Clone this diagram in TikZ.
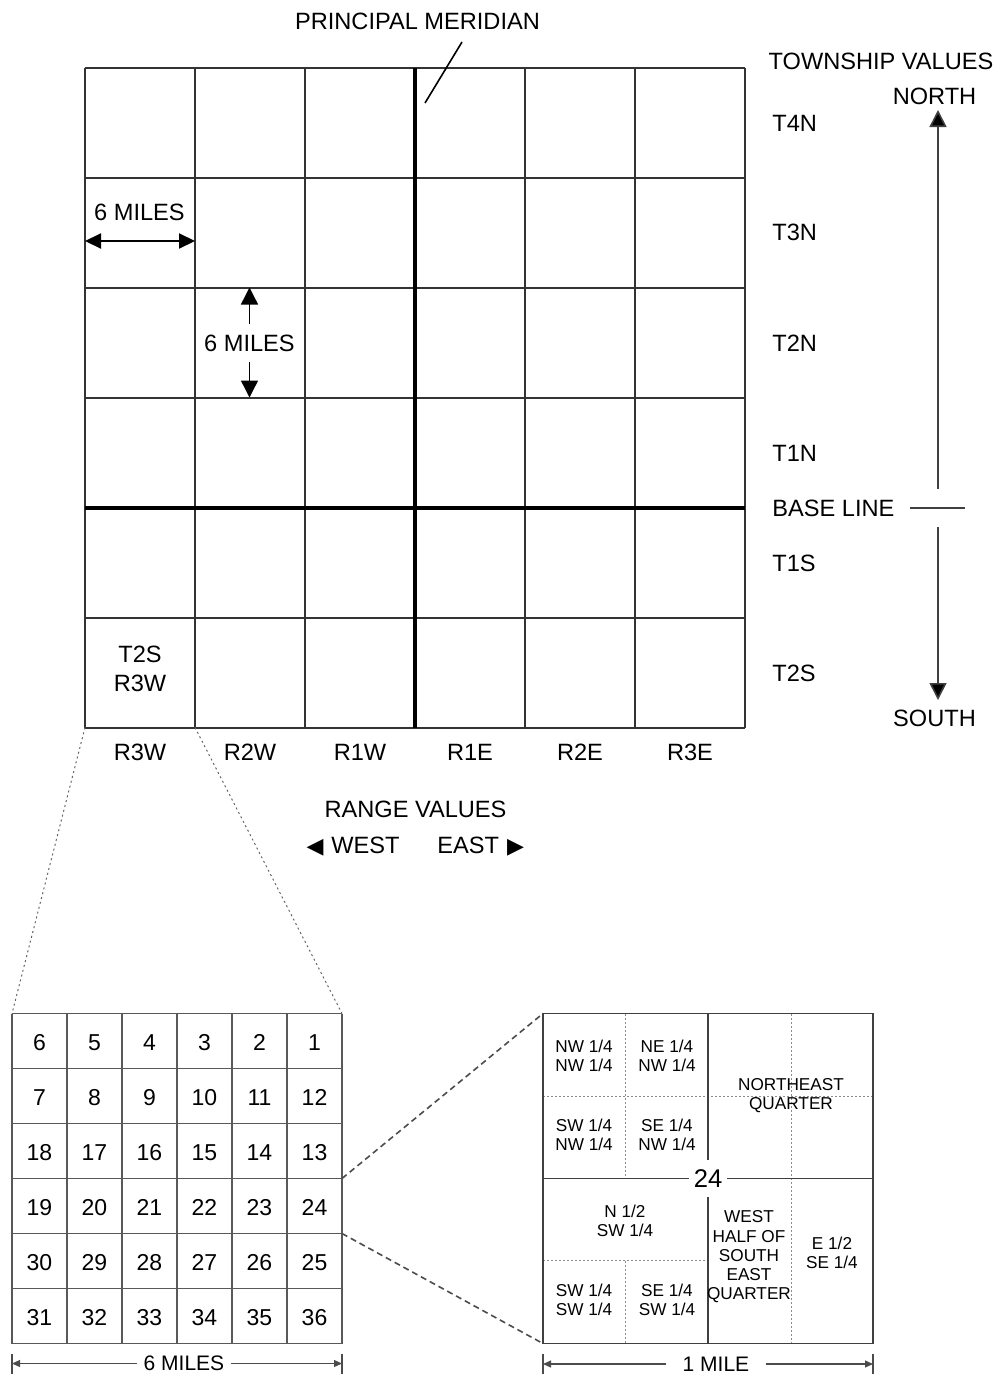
\documentclass[tikz,border=0pt]{standalone}
\usepackage{fontspec}
\setmainfont{Liberation Sans}
\newfontfamily\symbfont{DejaVu Sans}
\usetikzlibrary{arrows.meta, positioning, calc}

\begin{document}
\begin{tikzpicture}[
    x=0.5pt, y=-0.5pt,
    font=\fontsize{11.8}{14.5}\selectfont,
    grid line/.style={line width=1pt, black!80},
    main line/.style={line width=2pt, black},
    sec line/.style={line width=0.7pt, black!65},
    quarter line/.style={line width=0.8pt, black!75},
    fine dots/.style={line width=0.4pt, black!45, dash pattern=on 1pt off 1pt},
    zoom dots/.style={line width=0.5pt, black!60, dash pattern=on 1pt off 1.5pt},
    zoom dash/.style={line width=0.8pt, black!70, dash pattern=on 3pt off 2pt},
    dim line/.style={line width=0.6pt, black!70},
    dim tip/.style={-{Triangle[length=4pt, width=3.5pt]}},
    miles arrow/.style={line width=1pt, -{Triangle[length=8pt, width=7.5pt]}},
    compass arrow/.style={line width=0.8pt, black!75, -{Triangle[length=8.5pt, width=8.5pt, fill=black]}},
    sec num/.style={font=\fontsize{11.5}{13}\selectfont},
    small label/.style={font=\fontsize{8.6}{9.6}\selectfont, align=center, inner sep=0pt},
    dim label/.style={font=\fontsize{10.5}{12}\selectfont, fill=white},
    township/.style={anchor=west, inner sep=0pt}
]
    \useasboundingbox (0,0) rectangle (1003,1376);

    % --- Township grid ---
    \foreach \i in {0,...,6}{
        \draw[grid line] (85+110*\i,67.5) -- (85+110*\i,727.5);
        \draw[grid line] (85,67.5+110*\i) -- (745,67.5+110*\i);
    }
    \draw[main line] (415,67.5) -- (415,727.5);
    \draw[main line] (85,507.5) -- (745,507.5);

    \node (meridian) at (417.5,21) {PRINCIPAL MERIDIAN};
    \coordinate (meridian start) at (462,42);
    \coordinate (meridian tip) at (425,103);
    \draw[line width=0.8pt] (meridian start) -- (meridian tip);

    % --- 6 miles markers ---
    \node (hmiles) at (139.5,212) {6 MILES};
    \coordinate (hm west) at (85,241);
    \coordinate (hm east) at (195,241);
    \draw[miles arrow, {Triangle[length=8pt, width=7.5pt]}-{Triangle[length=8pt, width=7.5pt]}] (hm west) -- (hm east);

    \node[inner xsep=0pt, inner ysep=5pt] (vmiles) at (249.5,343) {6 MILES};
    \coordinate (vm top) at (249.5,287.5);
    \coordinate (vm bottom) at (249.5,397.5);
    \draw[miles arrow, line width=0.7pt, -{Triangle[length=8.5pt, width=8.5pt]}] (vmiles.north) -- (vm top);
    \draw[miles arrow, line width=0.7pt, -{Triangle[length=8.5pt, width=8.5pt]}] (vmiles.south) -- (vm bottom);

    \node[align=center] (cellT2S) at (140,668.5) {T2S\\R3W};

    % --- Township values ---
    \node (township) at (881,61) {TOWNSHIP VALUES};
    \node (north) at (934.5,96.5) {NORTH};
    \node (south) at (934.5,718) {SOUTH};
    \node[township] (baseline) at (772,508) {BASE LINE};
    \foreach \lab/\yy in {T4N/123.5, T3N/232, T2N/343, T1N/453, T1S/563, T2S/673}
        \node[township] (\lab) at (772,\yy) {\lab};

    \coordinate (bl west) at (910,508);
    \coordinate (bl east) at (965,508);
    \coordinate (up start) at (938,489);
    \coordinate (up end) at (938,110);
    \coordinate (down start) at (938,527);
    \coordinate (down end) at (938,700);
    \draw[line width=0.8pt, black!75] (bl west) -- (bl east);
    \draw[compass arrow] (up start) -- (up end);
    \draw[compass arrow] (down start) -- (down end);

    % --- Range values ---
    \foreach \lab [count=\k from 0] in {R3W,R2W,R1W,R1E,R2E,R3E}
        \node (\lab) at (140+110*\k,752) {\lab};
    \node (range) at (415.5,809) {RANGE VALUES};
    \node[anchor=east, inner sep=0pt] (west) at (400,847) {{\symbfont\fontsize{11}{12}\selectfont ◀}\hspace{4pt}WEST};
    \node[anchor=west, inner sep=0pt] (east) at (437,847) {EAST\hspace{4pt}{\symbfont\fontsize{11}{12}\selectfont ▶}};

    % --- Township sections ---
    \foreach \r in {0,...,5}{
        \foreach \c in {0,...,5}{
            \pgfmathtruncatemacro{\n}{mod(\r,2)==0 ? 6*\r+6-\c : 6*\r+1+\c}
            \node[sec num] (sec\n) at (39.5+55*\c,1042.5+55*\r) {\n};
        }
    }
    \foreach \i in {0,...,6}{
        \draw[sec line] (12+55*\i,1013.5) -- (12+55*\i,1343.5);
        \draw[sec line] (12,1013.5+55*\i) -- (342,1013.5+55*\i);
    }
    \draw[zoom dots] (85,727.5) -- (12,1013.5);
    \draw[zoom dots] (195,727.5) -- (342,1013.5);

    \coordinate (six west) at (12,1363.5);
    \coordinate (six east) at (342,1363.5);
    \node[dim label, inner xsep=3pt] (sixmiles) at (184,1363.5) {6 MILES};
    \draw[dim line] (12,1353.5) -- (12,1373.5) (342,1353.5) -- (342,1373.5);
    \draw[dim line, dim tip] (sixmiles.west) -- (six west);
    \draw[dim line, dim tip] (sixmiles.east) -- (six east);

    % --- Section 24 ---
    \draw[fine dots] (625.5,1013.5) -- (625.5,1178.5);
    \draw[fine dots] (625.5,1260.5) -- (625.5,1343.5);
    \draw[fine dots] (543,1096) -- (873,1096);
    \draw[fine dots] (543,1260.5) -- (708,1260.5);
    \draw[fine dots] (791,1013.5) -- (791,1343.5);
    \draw[quarter line] (708,1013.5) -- (708,1343.5);
    \draw[quarter line] (543,1178.5) -- (873,1178.5);
    \draw[quarter line] (543,1013.5) rectangle (873,1343.5);
    \node[fill=white, inner xsep=2.5pt, inner ysep=5pt, font=\fontsize{12.8}{14}\selectfont] (sec24big) at (708,1178.5) {24};

    \node[small label] (nwnw) at (584,1056) {NW 1/4\\NW 1/4};
    \node[small label] (nenw) at (667,1056) {NE 1/4\\NW 1/4};
    \node[small label] (swnw) at (584,1135) {SW 1/4\\NW 1/4};
    \node[small label] (senw) at (667,1135) {SE 1/4\\NW 1/4};
    \node[small label] (neq) at (791,1096) {NORTHEAST\\QUARTER};
    \node[small label] (nsw) at (625,1221) {N 1/2\\SW 1/4};
    \node[small label] (swsw) at (584,1300) {SW 1/4\\SW 1/4};
    \node[small label] (sesw) at (667,1300) {SE 1/4\\SW 1/4};
    \node[small label] (wse) at (749,1257) {WEST\\HALF OF\\SOUTH\\EAST\\QUARTER};
    \node[small label] (ese) at (832,1253) {E 1/2\\SE 1/4};

    \draw[zoom dash] (342,1178.5) -- (543,1013.5);
    \draw[zoom dash] (342,1233.5) -- (543,1343.5);

    \coordinate (mile west) at (543,1364);
    \coordinate (mile east) at (873,1364);
    \node[dim label, inner xsep=8pt] (onemile) at (716,1364) {1 MILE};
    \draw[dim line] (543,1354) -- (543,1374) (873,1354) -- (873,1374);
    \draw[dim line, dim tip] (onemile.west) -- (mile west);
    \draw[dim line, dim tip] (onemile.east) -- (mile east);
\end{tikzpicture}
\end{document}
